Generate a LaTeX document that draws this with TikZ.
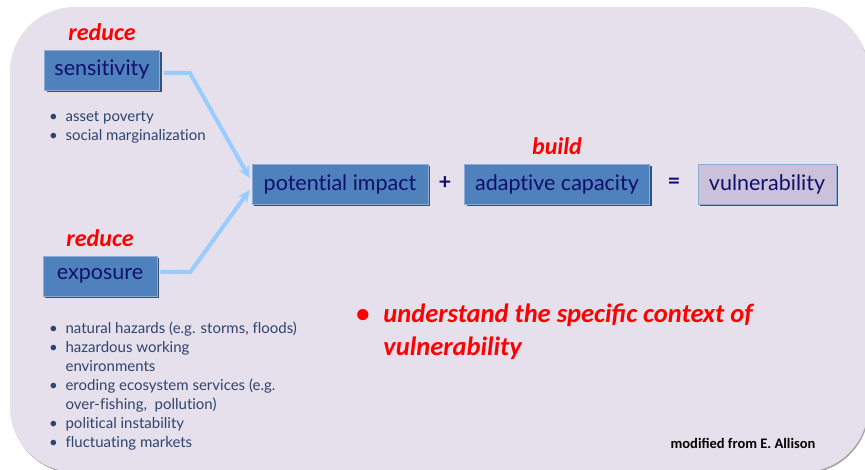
\documentclass[tikz,border=0pt]{standalone}
\usepackage{fontspec}
\setmainfont{Lato}[Ligatures=NoCommon]
\newfontfamily\calibri{Carlito}
\usetikzlibrary{positioning,arrows.meta,shadows}
\definecolor{bglav}{RGB}{229,224,236}
\definecolor{boxblue}{RGB}{79,129,189}
\definecolor{boxedge}{RGB}{140,172,212}
\definecolor{boxshade}{RGB}{50,82,125}
\definecolor{boxlav}{RGB}{204,193,218}
\definecolor{navytext}{RGB}{16,16,106}
\definecolor{listtext}{RGB}{48,68,110}
\definecolor{linkblue}{RGB}{153,204,255}

\begin{document}
\begin{tikzpicture}[
    x=1pt, y=-1pt,
    box/.style={rectangle, draw=boxedge, line width=0.8pt, fill=boxblue, text=navytext, inner sep=0pt, minimum height=40pt, font=\fontsize{21.5}{24}\selectfont, drop shadow={shadow xshift=2pt, shadow yshift=-2pt, fill=boxshade, opacity=1}},
    verb/.style={text=red, font=\calibri\bfseries\itshape\fontsize{24}{26}\selectfont},
    list/.style={anchor=north west, align=left, inner sep=0pt, text=listtext, font=\fontsize{15}{19}\selectfont},
    op/.style={text=navytext, font=\bfseries\fontsize{22}{24}\selectfont},
    arrow/.style={draw=linkblue, line width=4pt, -{Stealth[length=12pt, width=11pt]}}
]
    \useasboundingbox (0,0) rectangle (865,470);
    \clip (0,0) rectangle (865,470);

    % panel
    \fill[gray!70, rounded corners=65pt] (11,9) rectangle (869,473.5);
    \fill[bglav, rounded corners=65pt] (10,7) rectangle (868,472);

    % left-hand factors
    \node[box, minimum width=115pt] (sens) at (102,70) {sensitivity};
    \node[verb, above=5pt of sens] (reduce1) {reduce};
    \node[list] (senslist) at (49,111) {\textbullet\ \ asset poverty\\ \textbullet\ \ social marginalization};

    \node[box, minimum width=114pt] (expo) at (100,276) {exposure};
    \node[verb, above=5pt of expo] (reduce2) {reduce};
    \node[list] (expolist) at (49,322) {\textbullet\ \ natural hazards (e.g. storms, floods)\\
        \textbullet\ \ hazardous working\\
        \phantom{\textbullet\ \ }environments\\
        \textbullet\ \ eroding ecosystem services (e.g.\\
        \phantom{\textbullet\ \ }over-fishing,\ \ pollution)\\
        \textbullet\ \ political instability\\
        \textbullet\ \ fluctuating markets};

    % the equation
    \node[box, minimum width=176pt] (impact) at (340,184) {potential impact};
    \node[op] (plus) at (445,183) {+};
    \node[box, minimum width=185pt] (adapt) at (557,184) {adaptive capacity};
    \node[verb, above=5pt of adapt] (build) {build};
    \node[op] (equals) at (674,183) {=};
    \node[box, fill=boxlav, minimum width=138pt] (vuln) at (767,184) {vulnerability};

    \draw[arrow] ([xshift=4pt, yshift=-3pt]sens.east) -- ++(26,0) -- ([xshift=-2pt, yshift=6pt]impact.west);
    \draw[arrow] ([xshift=3pt, yshift=4pt]expo.east) -- ++(30,0) -- ([xshift=-2pt, yshift=-6pt]impact.west);

    % note and credit
    \node[anchor=north west, inner sep=0pt, text=red, font=\calibri\bfseries\itshape\fontsize{26.5}{33}\selectfont] (note) at (356,299)
        {\begin{tabular}{@{}l@{\hspace{14pt}}l@{}}\textbullet & understand the specific context of\\ & vulnerability\end{tabular}};
    \node[anchor=east, font=\calibri\bfseries\fontsize{14.5}{16}\selectfont] (credit) at (819,443) {modified from E. Allison};
\end{tikzpicture}
\end{document}
